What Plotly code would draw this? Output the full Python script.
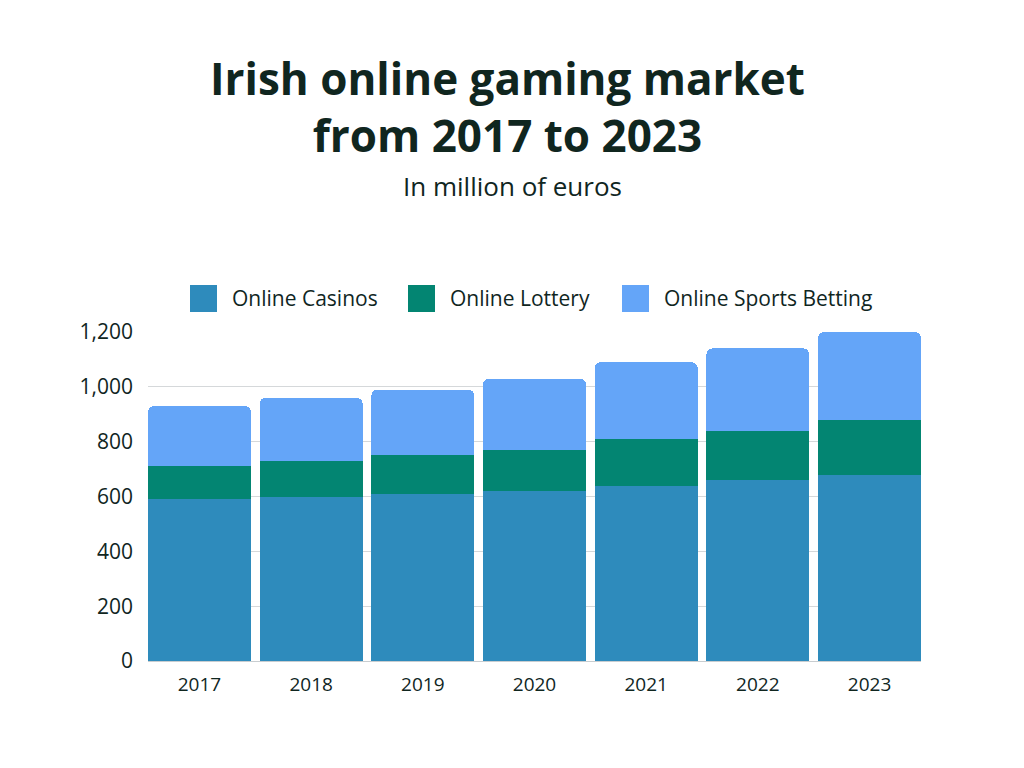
import plotly.graph_objects as go

years = ["2017", "2018", "2019", "2020", "2021", "2022", "2023"]
casinos = [590, 600, 610, 620, 640, 660, 680]
lottery = [120, 130, 140, 150, 170, 180, 200]
sports = [220, 230, 240, 260, 280, 300, 320]

names = ["Online Casinos", "Online Lottery", "Online Sports Betting"]
colors = ["#2E8BBC", "#038572", "#64A5F8"]
series = [casinos, lottery, sports]

TEXT = "#10261F"
FONT = "Open Sans"

# page offset (body margin) of the rendered figure
OFF = 8
L, R, T, B = 148 - OFF, 1024 - 921 + OFF, 332 - OFF, 768 - 661 + OFF
PH = 768 - T - B
PW = 1024 - L - R


def py(screen_y):
    return (768 - B - (screen_y - OFF)) / PH


def px(screen_x):
    return (screen_x - OFF - L) / PW


fig = go.Figure()
for name, vals, col in zip(names, series, colors):
    fig.add_trace(go.Bar(x=years, y=vals, name=name, marker=dict(color=col, line=dict(width=0)),
                         hovertemplate="%{x}: %{y}<extra>" + name + "</extra>"))

annotations = [
    dict(text="<b>Irish online gaming market<br>from 2017 to 2023</b>", x=px(507), xref="paper",
         y=py(106), yref="paper", yanchor="middle", showarrow=False,
         font=dict(size=44, family=FONT, color=TEXT)),
    dict(text="In million of euros", x=px(512), xref="paper", y=py(186), yref="paper",
         yanchor="middle", showarrow=False, font=dict(size=26, family=FONT, color=TEXT)),
]
shapes = []
legend_x = [(190, 230), (408, 448), (622, 662)]
for (sx, tx), name, col in zip(legend_x, names, colors):
    shapes.append(dict(type="rect", xref="paper", yref="paper", x0=px(sx), x1=px(sx + 27),
                       y0=py(312), y1=py(285), fillcolor=col, line=dict(width=0)))
    annotations.append(dict(text=name, x=px(tx), xref="paper", xanchor="left", y=py(298),
                            yref="paper", yanchor="middle", showarrow=False,
                            font=dict(size=21, family=FONT, color=TEXT)))

fig.update_layout(
    width=1024, height=768,
    barmode="stack", bargap=0.078, barcornerradius=6,
    paper_bgcolor="white", plot_bgcolor="white",
    margin=dict(l=L, r=R, t=T, b=B),
    font=dict(family=FONT, color=TEXT, size=19),
    showlegend=False,
    annotations=annotations,
    shapes=shapes,
)

fig.update_xaxes(range=[-0.461, 6.461], showgrid=False, showline=True, linecolor="#C8CDD0",
                 linewidth=1, ticks="", ticklabelstandoff=6,
                 tickfont=dict(size=19, family=FONT, color=TEXT))
fig.update_yaxes(range=[0, 1200], tickvals=[0, 200, 400, 600, 800, 1000, 1200],
                 tickformat=",", showgrid=True, gridcolor="#D5D8DA", gridwidth=1,
                 zeroline=False, ticks="", ticklabelstandoff=14,
                 tickfont=dict(size=21, family=FONT, color=TEXT))

fig.write_html("out.html")
